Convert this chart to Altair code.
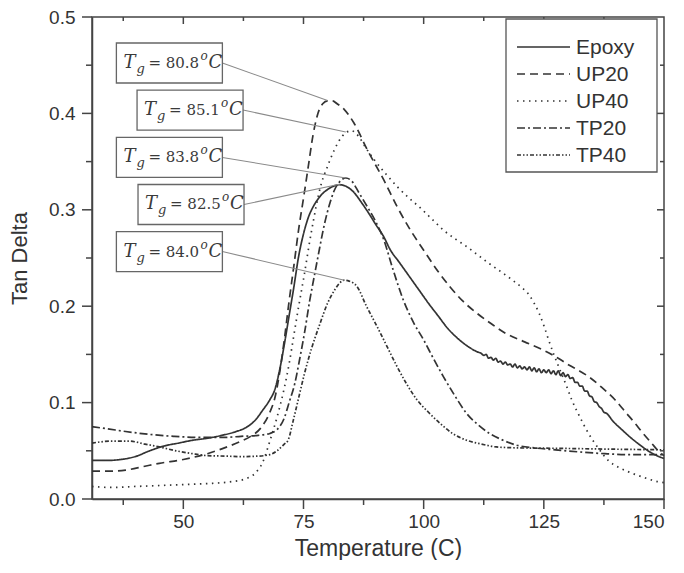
import altair as alt
import pandas as pd

# ---------------- data ----------------
series_names = ["Epoxy", "UP20", "UP40", "TP20", "TP40"]

epoxy_T = [31, 34, 37, 40, 43, 46, 49, 52, 55, 58, 61, 63, 65, 66.5, 68, 69, 70, 71, 72, 73, 74, 75, 76, 77, 78, 79, 80, 81, 82.5, 84, 85.5, 87, 88.5, 90, 91.7, 93, 95, 97, 99, 101, 103, 105, 107, 109, 111,
           112, 112.5, 113, 113.5, 114, 114.5, 115, 115.5, 116, 116.5, 117, 117.5, 118, 118.5, 119, 119.5, 120, 120.5, 121, 121.5, 122, 122.5, 123, 123.5, 124, 124.5, 125, 125.5,
           126, 126.5, 127, 127.5, 128, 128.5, 129, 129.5, 130, 130.5, 131, 131.5, 132, 132.5, 133, 133.5, 134, 134.5, 135, 135.5, 136, 136.5, 137, 137.5, 138,
           139.5, 141, 143, 145, 147, 148.5, 150]
epoxy_v = [0.040, 0.040, 0.041, 0.044, 0.050, 0.055, 0.058, 0.061, 0.063, 0.066, 0.070, 0.074, 0.082, 0.092, 0.103, 0.113, 0.133, 0.160, 0.190, 0.220, 0.252, 0.275, 0.292, 0.303, 0.311, 0.317, 0.321, 0.324, 0.326, 0.324, 0.318, 0.308, 0.297, 0.285, 0.272, 0.259, 0.245, 0.231, 0.217, 0.203, 0.190, 0.177, 0.167, 0.159, 0.153,
           0.151, 0.149, 0.150, 0.146, 0.147, 0.144, 0.146, 0.142, 0.143, 0.140, 0.142, 0.139, 0.140, 0.137, 0.140, 0.136, 0.138, 0.135, 0.137, 0.134, 0.137, 0.133, 0.136, 0.132, 0.135, 0.131, 0.134, 0.131,
           0.134, 0.130, 0.133, 0.129, 0.133, 0.128, 0.131, 0.127, 0.129, 0.125, 0.126, 0.121, 0.121, 0.117, 0.117, 0.112, 0.112, 0.107, 0.106, 0.101, 0.100, 0.096, 0.094, 0.090, 0.089,
           0.080, 0.073, 0.064, 0.056, 0.049, 0.045, 0.042]

up20_T = [31, 35, 38, 42, 45, 50, 55, 58, 62, 64, 66, 68, 69, 70, 71, 72, 73, 74, 75, 76, 77, 78, 79, 80, 81, 82, 83.5, 85.5, 88.3, 91.7, 94.5, 97, 100, 103, 105.5, 108, 111, 114, 117, 121, 124.7, 128, 130.2, 132, 134.3, 137, 139.8, 142, 143.9, 145.5, 147.4, 149, 150]
up20_v = [0.029, 0.029, 0.030, 0.034, 0.037, 0.041, 0.047, 0.052, 0.060, 0.065, 0.073, 0.090, 0.104, 0.130, 0.165, 0.205, 0.242, 0.280, 0.312, 0.345, 0.378, 0.400, 0.410, 0.413, 0.413, 0.410, 0.404, 0.390, 0.362, 0.331, 0.303, 0.281, 0.258, 0.236, 0.220, 0.206, 0.193, 0.182, 0.172, 0.163, 0.155, 0.146, 0.139, 0.134, 0.127, 0.116, 0.103, 0.090, 0.079, 0.069, 0.058, 0.049, 0.045]

up40_T = [31, 35, 40, 45, 50, 55, 60, 63, 65, 66.5, 68, 69.5, 71, 72, 73, 74, 75, 76.6, 78.7, 80, 81.4, 83, 85, 86.5, 88, 89.7, 92, 94.5, 97, 99.3, 102, 104.1, 106.5, 108.9, 111.3, 113.7, 116, 118.5, 120.5, 121.9, 123, 124, 125, 126, 127, 128.1, 129.5, 130.8, 132.5, 134.3, 136.3, 138.4, 140.5, 143.2, 146, 148.7, 150]
up40_v = [0.013, 0.012, 0.013, 0.014, 0.015, 0.016, 0.018, 0.021, 0.027, 0.038, 0.060, 0.085, 0.115, 0.140, 0.170, 0.200, 0.228, 0.276, 0.327, 0.345, 0.362, 0.376, 0.382, 0.376, 0.364, 0.352, 0.338, 0.324, 0.312, 0.302, 0.289, 0.279, 0.270, 0.262, 0.253, 0.244, 0.236, 0.227, 0.219, 0.212, 0.203, 0.193, 0.180, 0.165, 0.151, 0.137, 0.120, 0.103, 0.085, 0.068, 0.053, 0.040, 0.033, 0.027, 0.022, 0.018, 0.017]

tp20_T = [31, 34, 38, 43, 48, 53, 58.8, 62, 65.6, 68, 69.5, 71, 72, 73.2, 74.2, 75.2, 76.3, 77.2, 78, 79.4, 80.5, 81.4, 82.5, 83.8, 85, 86.5, 88.3, 90, 91.7, 93.5, 95.8, 98, 100, 102, 104.1, 106.5, 108.9, 111.3, 113.7, 116.5, 119.2, 123, 127.4, 132, 137.7, 143, 150]
tp20_v = [0.075, 0.073, 0.070, 0.067, 0.065, 0.064, 0.064, 0.065, 0.066, 0.068, 0.072, 0.084, 0.100, 0.120, 0.145, 0.172, 0.206, 0.230, 0.251, 0.286, 0.307, 0.320, 0.329, 0.333, 0.330, 0.318, 0.303, 0.288, 0.269, 0.240, 0.206, 0.182, 0.165, 0.146, 0.127, 0.107, 0.089, 0.077, 0.068, 0.061, 0.056, 0.053, 0.051, 0.049, 0.047, 0.046, 0.046]

tp40_T = [31, 35, 38.8, 42, 45, 48.5, 51.9, 55, 58.8, 62, 65.6, 68, 69.5, 71, 71.8, 72.8, 73.9, 75.2, 76.6, 78.3, 80, 81.5, 82.5, 83.5, 84.5, 86.2, 88, 90.3, 92.5, 94.5, 96.5, 98.6, 101, 103.4, 106, 108.9, 112, 115.1, 120, 127.4, 135, 142, 150]
tp40_v = [0.058, 0.060, 0.060, 0.057, 0.054, 0.050, 0.047, 0.045, 0.0445, 0.044, 0.0445, 0.046, 0.050, 0.057, 0.061, 0.080, 0.103, 0.130, 0.155, 0.180, 0.203, 0.217, 0.224, 0.227, 0.226, 0.220, 0.201, 0.179, 0.157, 0.137, 0.119, 0.103, 0.090, 0.0785, 0.068, 0.061, 0.057, 0.054, 0.053, 0.0526, 0.052, 0.0515, 0.051]

# annotations
tg_values = ["80.8", "85.1", "83.8", "82.5", "84.0"]
box_T = [47.1, 51.4, 47.1, 51.6, 47.1]
box_v = [0.4523, 0.4035, 0.3543, 0.3055, 0.2567]
peak_T = [80.0, 83.8, 83.8, 82.7, 83.5]
peak_v = [0.4134, 0.3807, 0.333, 0.3268, 0.227]

x_ticks = [37.5, 50, 62.5, 75, 87.5, 100, 112.5, 125, 137.5, 150]
y_ticks = [0.0, 0.05, 0.1, 0.15, 0.2, 0.25, 0.3, 0.35, 0.4, 0.45, 0.5]

# ---------------- layout ----------------
W, H = 572, 482
XMIN, XMAX = 31, 150
YMIN, YMAX = 0.0, 0.5
INK = "#333333"
AXC = "#444444"
BOX_W, BOX_H = 106, 40
TICK_MAJ, TICK_MIN = 10, 6
IN_MAJ, IN_MIN = 7, 4

px_per_T = W / (XMAX - XMIN)
px_per_v = H / (YMAX - YMIN)

rows = []
for name, Ts, vs in [("Epoxy", epoxy_T, epoxy_v), ("UP20", up20_T, up20_v), ("UP40", up40_T, up40_v),
                     ("TP20", tp20_T, tp20_v), ("TP40", tp40_T, tp40_v)]:
    for i, (t, v) in enumerate(zip(Ts, vs)):
        rows.append({"series": name, "T": t, "v": v, "i": i})
df = pd.DataFrame(rows)

hw = (BOX_W / 2) / px_per_T
hh = (BOX_H / 2) / px_per_v
ann = pd.DataFrame({"tg": tg_values, "cx": box_T, "cy": box_v, "px": peak_T, "py": peak_v})
ann["x1"] = ann["cx"] - hw
ann["x2"] = ann["cx"] + hw
ann["y1"] = ann["cy"] - hh
ann["y2"] = ann["cy"] + hh
ann["eq"] = "= " + ann["tg"]

xs = alt.Scale(domain=[XMIN, XMAX], nice=False, zero=False)
ys = alt.Scale(domain=[YMIN, YMAX], nice=False)

dash_range = [[1, 0], [8, 5], [1.5, 4.5], [8, 3, 2, 3], [4, 2, 1.5, 2, 1.5, 2]]
dash_scale = alt.Scale(domain=series_names, range=dash_range)

common_axis = dict(
    grid=False, labelFontSize=19, labelColor=INK, titleColor=INK,
    titleFontWeight="normal", domainColor=AXC, domainWidth=1.5,
    ticks=True, tickSize=TICK_MAJ, tickOpacity=0, labelOverlap=False,
)
x_axis = alt.Axis(
    values=x_ticks, title="Temperature (C)", titleFontSize=23,
    labelExpr="datum.value % 25 == 0 ? datum.label : ''",
    labelPadding=3, titlePadding=6, **common_axis,
)
y_axis = alt.Axis(
    values=y_ticks, title="Tan Delta", format=".1f", titleFontSize=22,
    labelExpr="round(datum.value * 100) % 10 == 0 ? datum.label : ''",
    labelPadding=7, titlePadding=17, **common_axis,
)

lines = alt.Chart(df).mark_line(color=INK, strokeWidth=1.7, interpolate="monotone").encode(
    x=alt.X("T:Q", scale=xs, axis=x_axis),
    y=alt.Y("v:Q", scale=ys, axis=y_axis),
    strokeDash=alt.StrokeDash("series:N", scale=dash_scale, legend=None),
    detail="series:N",
    order="i:Q",
)

# ---- ticks (outward on bottom/left, inward on top/right) ----
yt = pd.DataFrame({"v": y_ticks})
yt["major"] = [round(v * 100) % 10 == 0 for v in yt["v"]]
xt = pd.DataFrame({"T": x_ticks})
xt["major"] = [t % 25 == 0 for t in xt["T"]]
yt_in = yt[(yt["v"] > YMIN) & (yt["v"] < YMAX)]
xt_in = xt[xt["T"] < XMAX]

def rule(data, **enc):
    return alt.Chart(data).mark_rule(color=AXC, strokeWidth=1.5).encode(**enc)

tick_layers = [
    rule(yt[yt["major"]], y=alt.Y("v:Q", scale=ys), x=alt.value(0), x2=alt.value(-TICK_MAJ)),
    rule(yt[~yt["major"]], y=alt.Y("v:Q", scale=ys), x=alt.value(0), x2=alt.value(-TICK_MIN)),
    rule(xt[xt["major"]], x=alt.X("T:Q", scale=xs), y=alt.value(H), y2=alt.value(H + TICK_MAJ)),
    rule(xt[~xt["major"]], x=alt.X("T:Q", scale=xs), y=alt.value(H), y2=alt.value(H + TICK_MIN)),
    rule(yt_in[yt_in["major"]], y=alt.Y("v:Q", scale=ys), x=alt.value(W), x2=alt.value(W - IN_MAJ)),
    rule(yt_in[~yt_in["major"]], y=alt.Y("v:Q", scale=ys), x=alt.value(W), x2=alt.value(W - IN_MIN)),
    rule(xt_in[xt_in["major"]], x=alt.X("T:Q", scale=xs), y=alt.value(0), y2=alt.value(IN_MAJ)),
    rule(xt_in[~xt_in["major"]], x=alt.X("T:Q", scale=xs), y=alt.value(0), y2=alt.value(IN_MIN)),
]

# ---- annotations ----
base_ann = alt.Chart(ann)
leader = base_ann.mark_rule(color="#8a8a8a", strokeWidth=1.1).encode(
    x=alt.X("x2:Q", scale=xs), y=alt.Y("cy:Q", scale=ys), x2="px:Q", y2="py:Q")
boxes = base_ann.mark_rect(fill="white", stroke="#666666", strokeWidth=1.3).encode(
    x=alt.X("x1:Q", scale=xs), x2="x2:Q", y=alt.Y("y1:Q", scale=ys), y2="y2:Q")

SERIF = "DejaVu Serif"
def ann_text(field_or_text, dx, dy, size, italic, align="left"):
    kw = dict(font=SERIF, fontSize=size, color="#3a3a3a", align=align, baseline="middle", dx=dx, dy=dy)
    if italic:
        kw["fontStyle"] = "italic"
    m = base_ann.mark_text(**kw)
    enc = dict(x=alt.X("cx:Q", scale=xs), y=alt.Y("cy:Q", scale=ys))
    if field_or_text.startswith("@"):
        enc["text"] = alt.Text(field_or_text[1:] + ":N")
    else:
        enc["text"] = alt.value(field_or_text)
    return m.encode(**enc)

ann_layers = [
    leader, boxes,
    ann_text("T", -46, 0, 18, True),
    ann_text("g", -33, 6, 13, True),
    ann_text("@eq", -21, 0, 15, False),
    ann_text("o", 31, -7, 12, True),
    ann_text("C", 39, 0, 18, True),
]

# ---- legend (drawn inside the plot, top right) ----
LEG_X1, LEG_X2, LEG_Y1, LEG_Y2 = 414, 565, 2, 155
SYM_X1, SYM_X2, LAB_X = 425, 478, 484
row_px = [30, 57, 84, 111, 138]
leg = pd.DataFrame({"series": series_names, "lv": [YMAX - p / px_per_v for p in row_px]})

leg_box = alt.Chart(leg.head(1)).mark_rect(fill="white", stroke="#555555", strokeWidth=1.3).encode(
    x=alt.value(LEG_X1), x2=alt.value(LEG_X2), y=alt.value(LEG_Y1), y2=alt.value(LEG_Y2))
leg_sym = alt.Chart(leg).mark_rule(color=INK, strokeWidth=1.7).encode(
    x=alt.value(SYM_X1), x2=alt.value(SYM_X2), y=alt.Y("lv:Q", scale=ys),
    strokeDash=alt.StrokeDash("series:N", scale=dash_scale, legend=None))
leg_txt = alt.Chart(leg).mark_text(align="left", baseline="middle", fontSize=21, color=INK, dy=1).encode(
    x=alt.value(LAB_X), y=alt.Y("lv:Q", scale=ys), text="series:N")

chart = alt.layer(
    lines, *tick_layers, *ann_layers, leg_box, leg_sym, leg_txt
).properties(
    width=W, height=H, padding={"left": 0, "top": 0, "right": 0, "bottom": 0}
).configure(font="Liberation Sans").configure_view(stroke=AXC, strokeWidth=1.5)

chart.save("out.html", embed_options={"renderer": "svg", "actions": False})
